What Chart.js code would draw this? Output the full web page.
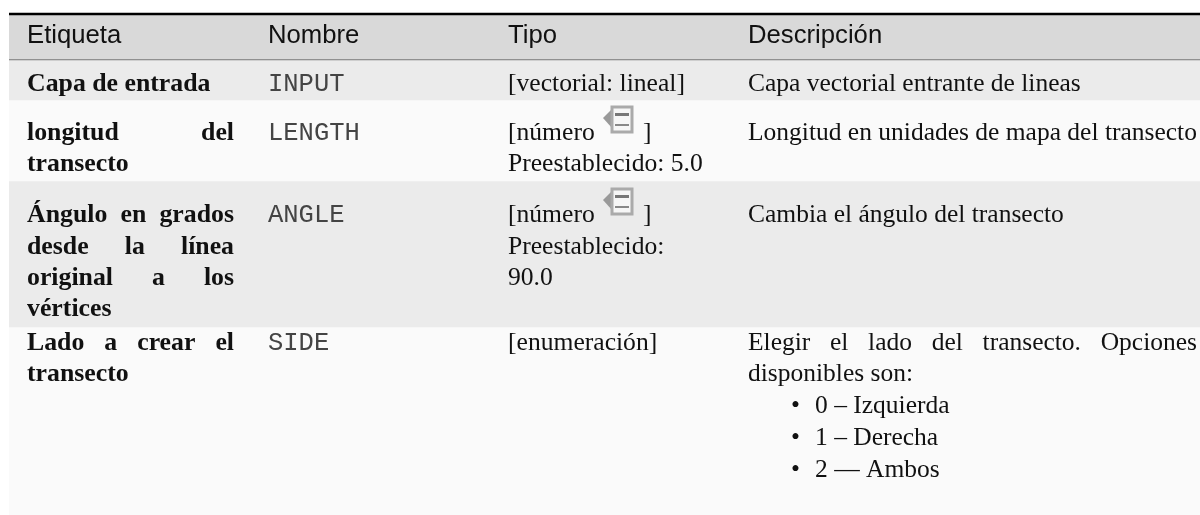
<!DOCTYPE html>
<html><head><meta charset="utf-8">
<style>html,body{margin:0;padding:0;background:#fff}canvas{display:block}</style>
<script src="https://cdn.jsdelivr.net/npm/chart.js@4"></script></head>
<body><canvas id="c" width="1200" height="515"></canvas>
<script>
const headers = ['Etiqueta','Nombre','Tipo','Descripción'];
const rowEdges = [60,100,181,327,515];
const rowColors = ['#ebebeb','#fafafa','#ebebeb','#fafafa'];
const labelLines = [
  [['Capa de entrada',84,0]],
  [['longitud del',133,1],['transecto',164,0]],
  [['Ángulo en grados',215,1],['desde la línea',247,1],['original a los',278,1],['vértices',309,0]],
  [['Lado a crear el',343,1],['transecto',374,0]]
];
const names = [['INPUT',84],['LENGTH',133],['ANGLE',215],['SIDE',343]];
const types = [['[vectorial: lineal]',84],['[número',133],['Preestablecido: 5.0',164],['[número',215],['Preestablecido:',247],['90.0',278],['[enumeración]',343]];
const typeClose = [[133],[215]];
const descs = [['Capa vectorial entrante de lineas',84,0],['Longitud en unidades de mapa del transecto',133,0],['Cambia el ángulo del transecto',215,0],['Elegir el lado del transecto. Opciones',343,1],['disponibles son:',374,0]];
const bullets = [['0 – Izquierda',406],['1 – Derecha',438],['2 — Ambos',470]];
const colX = [27,268,508,748];
const SANS='"Liberation Sans"',SERIF='"Liberation Serif"',MONO='"Liberation Mono"';
const tablePlugin = {
  id:'table',
  afterDatasetsDraw(chart){
    const g=chart.ctx,X=chart.scales.px,Y=chart.scales.y;
    const px=v=>X.getPixelForValue(v),py=v=>Y.getPixelForValue(v);
    g.save();g.textBaseline='middle';g.fillStyle='#111';
    const put=(t,x,y,f)=>{g.font=f;g.fillText(t,px(x),py(y));};
    const just=(t,x,r,y,f)=>{g.font=f;const w=t.split(' ');
      const tot=w.reduce((a,s)=>a+g.measureText(s).width,0);
      const gap=(px(r)-px(x)-tot)/(w.length-1);let c=px(x);
      w.forEach(s=>{g.fillText(s,c,py(y));c+=g.measureText(s).width+gap;});};
    headers.forEach((h,i)=>put(h,colX[i],36,'25.7px '+SANS));
    labelLines.flat().forEach(l=>{const f='bold 25.8px '+SERIF;
      l[2]?just(l[0],colX[0],234,l[1],f):put(l[0],colX[0],l[1],f);});
    g.fillStyle='#444';
    names.forEach(n=>put(n[0],colX[1],n[1],'25.5px '+MONO));
    g.fillStyle='#111';
    types.forEach(t=>put(t[0],colX[2],t[1],'25.6px '+SERIF));
    descs.forEach(d=>{const f='25.5px '+SERIF;
      d[2]?just(d[0],colX[3],1197,d[1],f):put(d[0],colX[3],d[1],f);});
    bullets.forEach(b=>{put('•',791,b[1],'25.5px '+SERIF);put(b[0],815,b[1],'25.5px '+SERIF);});
    typeClose.forEach(t=>{put(']',643,t[0],'25.5px '+SERIF);
      const x=px(603),y=py(t[0]-27);
      g.fillStyle='#999';g.beginPath();g.moveTo(x+9,y+3);g.lineTo(x,y+12);g.lineTo(x+9,y+22);g.fill();
      g.strokeStyle='#aaa';g.lineWidth=3;g.fillStyle='#f6f6f6';
      g.fillRect(x+9,y+1,20,25);g.strokeRect(x+9,y+1,20,25);
      g.fillStyle='#777';g.fillRect(x+12,y+7,14,3);g.fillStyle='#888';g.fillRect(x+12,y+18,14,2);
      g.fillStyle='#111';
    });
    g.restore();
  }
};
const band=(a,b,c)=>({data:[[a,b]],backgroundColor:c,borderWidth:0,barPercentage:1,categoryPercentage:1,grouped:false});
new Chart(document.getElementById('c'),{
  type:'bar',
  data:{labels:['tabla'],datasets:[
    band(13,15,'#000'),band(15,59,'#d9d9d9'),band(59,60,'#777'),
    ...rowColors.map((c,i)=>band(rowEdges[i],rowEdges[i+1],c))
  ]},
  plugins:[tablePlugin],
  options:{responsive:false,animation:false,layout:{padding:{left:9}},
    plugins:{legend:{display:false},tooltip:{enabled:false}},
    scales:{
      x:{display:false,offset:true,grid:{display:false}},
      y:{display:false,reverse:true,min:0,max:515,grid:{display:false}},
      px:{display:false,type:'linear',axis:'x',offset:false,min:9,max:1200}
    }}
});
</script></body></html>
